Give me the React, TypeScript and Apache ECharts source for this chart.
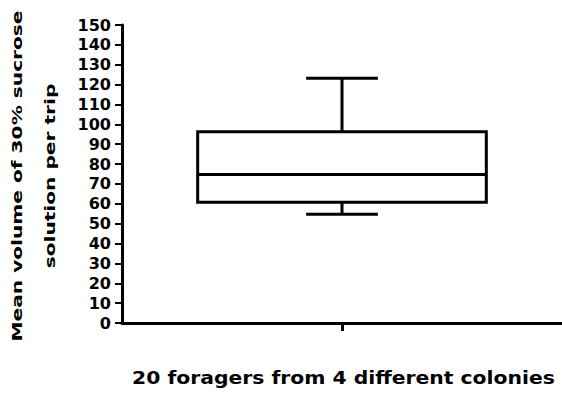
import React, { useEffect, useRef } from "react";
import * as echarts from "echarts";

// Data
const categories = ["20 foragers from 4 different colonies"];
// [min, Q1, median, Q3, max]
const boxStats = [[54.7, 60.8, 74.8, 96.3, 123.2]];
const yMin = 0;
const yMax = 150;
const yInterval = 10;
const yTitleLines = ["Mean volume of 30% sucrose", "solution per trip"];
const xTitle = "20 foragers from 4 different colonies";

const FONT = '"DejaVu Sans", "Liberation Sans", Arial, sans-serif';

export default function App() {
  const ref = useRef<HTMLDivElement>(null);

  useEffect(() => {
    if (!ref.current) return;
    const chart = echarts.init(ref.current, undefined, { renderer: "svg" });
    const seriesData = boxStats.map((s, i) => [i, ...s]);

    chart.setOption({
      animation: false,
      backgroundColor: "#fff",
      grid: { left: 122, top: 25, width: 442, height: 298, containLabel: false },
      xAxis: {
        type: "category",
        data: categories,
        boundaryGap: true,
        axisLine: { show: true, lineStyle: { color: "#000", width: 3 } },
        axisTick: { show: true, alignWithLabel: true, length: 8, lineStyle: { color: "#000", width: 3 } },
        axisLabel: { show: false },
        splitLine: { show: false },
      },
      yAxis: {
        type: "value",
        min: yMin,
        max: yMax,
        interval: yInterval,
        axisLine: { show: true, lineStyle: { color: "#000", width: 3 } },
        axisTick: { show: true, length: 7, lineStyle: { color: "#000", width: 2 } },
        axisLabel: {
          show: true,
          margin: 11,
          color: "#000",
          fontFamily: FONT,
          fontWeight: "bold",
          fontSize: 16,
        },
        splitLine: { show: false },
      },
      series: [
        {
          type: "custom",
          data: seriesData,
          encode: { x: 0, y: [1, 2, 3, 4, 5] },
          renderItem: (params: any, api: any) => {
            const ci = api.value(0);
            const band = api.size([1, 0])[0];
            const cx = api.coord([ci, 0])[0];
            const yAt = (k: number) => api.coord([ci, api.value(k)])[1];
            const yLo = yAt(1);
            const yQ1 = yAt(2);
            const yMed = yAt(3);
            const yQ3 = yAt(4);
            const yHi = yAt(5);
            const bh = (band * 0.656) / 2;
            const ch = (band * 0.163) / 2;
            const st = { stroke: "#000", lineWidth: 3, fill: "none" };
            return {
              type: "group",
              children: [
                { type: "line", shape: { x1: cx, y1: yQ3, x2: cx, y2: yHi }, style: st },
                { type: "line", shape: { x1: cx - ch, y1: yHi, x2: cx + ch, y2: yHi }, style: st },
                { type: "line", shape: { x1: cx, y1: yQ1, x2: cx, y2: yLo }, style: st },
                { type: "line", shape: { x1: cx - ch, y1: yLo, x2: cx + ch, y2: yLo }, style: st },
                {
                  type: "rect",
                  shape: { x: cx - bh, y: yQ3, width: 2 * bh, height: yQ1 - yQ3 },
                  style: { stroke: "#000", lineWidth: 3, fill: "#fff" },
                },
                { type: "line", shape: { x1: cx - bh, y1: yMed, x2: cx + bh, y2: yMed }, style: st },
              ],
            };
          },
        },
      ],
      graphic: [
        {
          type: "text",
          x: 17.5,
          y: 176,
          rotation: Math.PI / 2,
          scaleX: 1.4,
          style: {
            text: yTitleLines[0],
            fontFamily: FONT,
            fontWeight: "bold",
            fontSize: 14.4,
            fill: "#000",
            textAlign: "center",
            textVerticalAlign: "middle",
            align: "center",
            verticalAlign: "middle",
          },
        },
        {
          type: "text",
          x: 50,
          y: 176,
          rotation: Math.PI / 2,
          scaleX: 1.4,
          style: {
            text: yTitleLines[1],
            fontFamily: FONT,
            fontWeight: "bold",
            fontSize: 14.4,
            fill: "#000",
            textAlign: "center",
            textVerticalAlign: "middle",
            align: "center",
            verticalAlign: "middle",
          },
        },
        {
          type: "text",
          x: 343.4,
          y: 378,
          scaleX: 1.13,
          style: {
            text: xTitle,
            fontFamily: FONT,
            fontWeight: "bold",
            fontSize: 18,
            fill: "#000",
            textAlign: "center",
            textVerticalAlign: "middle",
            align: "center",
            verticalAlign: "middle",
          },
        },
      ],
    });

    return () => chart.dispose();
  }, []);

  return (
    <div
      ref={ref}
      style={{ position: "fixed", left: 0, top: 0, width: 562, height: 394, background: "#fff" }}
    />
  );
}
